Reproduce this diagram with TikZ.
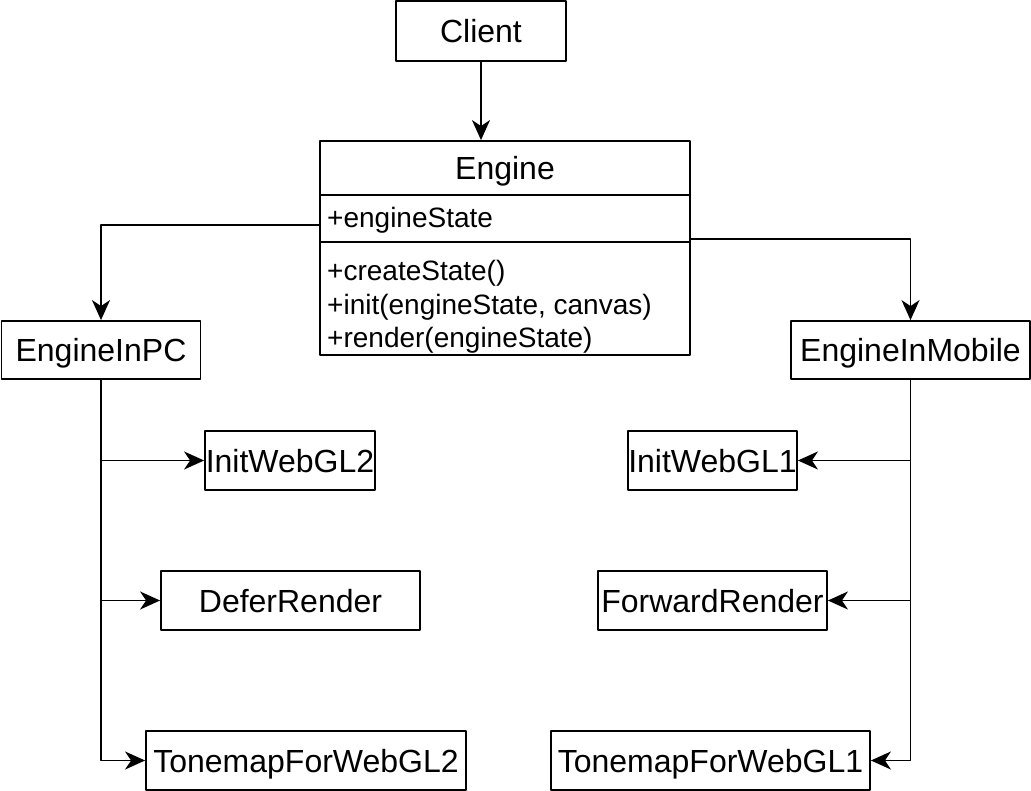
\documentclass[tikz,border=0pt]{standalone}
\usepackage{fontspec}
\setmainfont{Liberation Sans}
\usetikzlibrary{arrows.meta}
\begin{document}
\begin{tikzpicture}[x=1pt,y=-1pt, line join=round,
    box/.style={draw, line width=1.8pt, inner sep=0pt, text height=23pt, text depth=0pt,
        font=\fontsize{32}{38}\selectfont},
    part/.style={draw, line width=1.8pt, inner sep=0pt, minimum width=370},
    member/.style={anchor=base west, inner sep=0pt, font=\fontsize{28}{33.5}\selectfont},
    arr/.style={-{Stealth[length=20pt,width=18pt,inset=6pt]}, line width=1.8pt}]
            \useasboundingbox (0,0) rectangle (1031,791);
            % top of the diagram
            \node[box, minimum width=170, minimum height=60] (client) at (481,31) {Client};
            \node[box, minimum width=370, minimum height=54] (engine) at (505,168) {Engine};
            \node[part, minimum height=47] (attr) at (505,218.5) {};
            \node[part, minimum height=113] (meth) at (505,298.5) {};
            \node[member] (state) at (327,228) {+engineState};
            \node[member] (m1) at (327,281) {+createState()};
            \node[member] (m2) at (327,315) {+init(engineState, canvas)};
            \node[member] (m3) at (327,348) {+render(engineState)};
            \coordinate (eL) at (320,225);
            \coordinate (eR) at (690,239);
            % the two engines
            \node[box, minimum width=199, minimum height=58] (pc) at (101,350) {EngineInPC};
            \node[box, minimum width=239, minimum height=58] (mob) at (910.5,350) {EngineInMobile};
            % left column
            \node[box, minimum width=170, minimum height=59] (w2) at (290,460.5) {InitWebGL2};
            \node[box, minimum width=259, minimum height=59] (defer) at (290.5,600.5) {DeferRender};
            \node[box, minimum width=320, minimum height=59] (tm2) at (306,760.5) {TonemapForWebGL2};
            % right column
            \node[box, minimum width=169, minimum height=59] (w1) at (712.5,460.5) {InitWebGL1};
            \node[box, minimum width=229, minimum height=59] (fwd) at (712.5,600.5) {ForwardRender};
            \node[box, minimum width=319, minimum height=59] (tm1) at (710.5,760.5) {TonemapForWebGL1};
            \draw[arr] (client) -- (client |- engine.north);
            \draw[arr] (eL) -| (pc);
            \draw[arr] (eR) -| (mob);
            \draw[arr] (pc) |- (tm2);
            \draw[arr] (pc.south |- w2.west) -- (w2);
            \draw[arr] (pc.south |- defer.west) -- (defer);
            \draw[arr] (mob) |- (tm1);
            \draw[arr] (mob.south |- w1.east) -- (w1);
            \draw[arr] (mob.south |- fwd.east) -- (fwd);
\end{tikzpicture}
\end{document}
